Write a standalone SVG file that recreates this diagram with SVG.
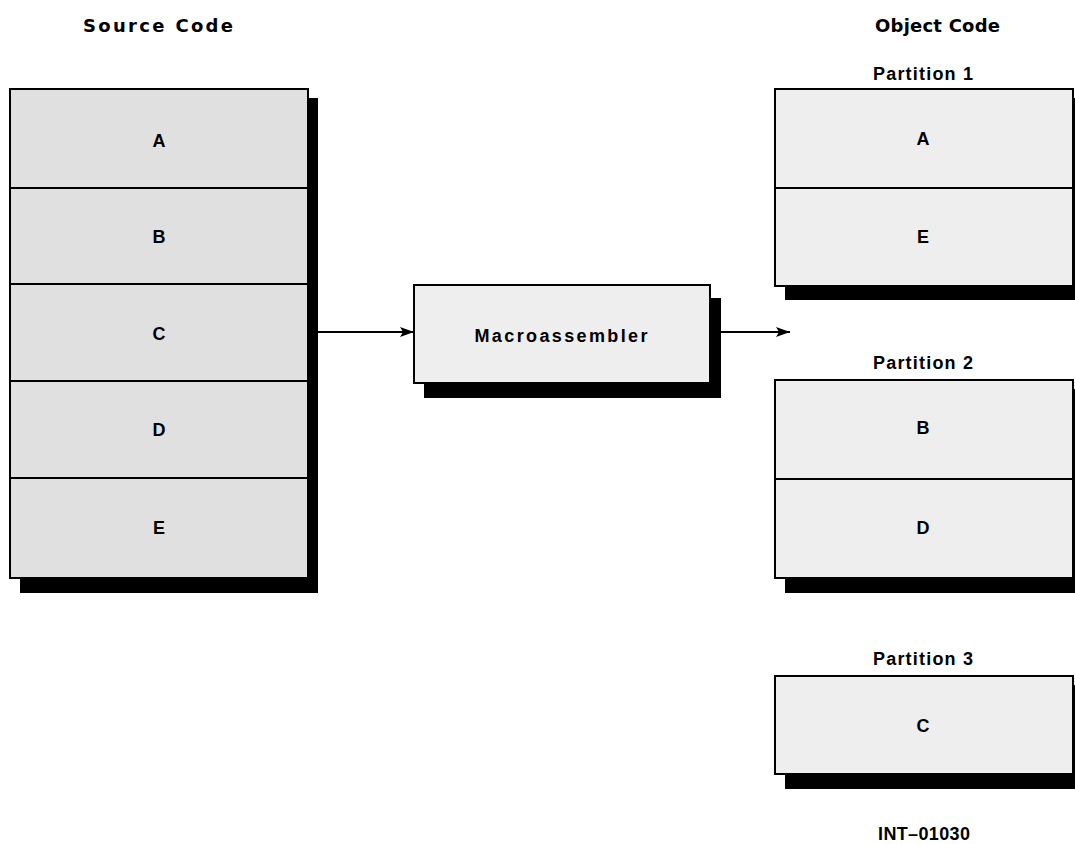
<svg xmlns="http://www.w3.org/2000/svg" width="1075" height="844" viewBox="0 0 1075 844">
<defs>
<style>
.box{stroke:#000;stroke-width:2;}
.src{fill:#e0e0e0;}
.obj{fill:#eeeeee;}
.sh{fill:#000;}
.title{font-family:"DejaVu Sans",sans-serif;font-weight:bold;font-size:18px;fill:#000;}
.lbl{font-family:"Liberation Sans",Arial,sans-serif;font-weight:bold;font-size:18px;fill:#000;text-anchor:middle;}
.ptl{font-family:"Liberation Sans",Arial,sans-serif;font-weight:bold;font-size:18px;fill:#000;text-anchor:middle;}
.conn{stroke:#000;stroke-width:2;fill:none;}
</style>
<marker id="arr" markerWidth="14" markerHeight="10" refX="14" refY="5" orient="auto" markerUnits="userSpaceOnUse">
<path d="M0,0 L14,5 L0,10 L3,5 Z" fill="#000"/>
</marker>
</defs>
<rect width="1075" height="844" fill="#fff"/>
<text class="title" x="83" y="32" textLength="150">Source Code</text>
<text class="title" x="875" y="32" textLength="125">Object Code</text>

<g id="source">
<rect class="sh" x="20" y="98" width="298" height="495"/>
<rect class="box src" x="10" y="89" width="298" height="489"/>
<line class="box" x1="10" y1="188" x2="308" y2="188"/>
<line class="box" x1="10" y1="284" x2="308" y2="284"/>
<line class="box" x1="10" y1="381" x2="308" y2="381"/>
<line class="box" x1="10" y1="478" x2="308" y2="478"/>
<text class="lbl" x="159" y="147">A</text>
<text class="lbl" x="159" y="243">B</text>
<text class="lbl" x="159" y="340">C</text>
<text class="lbl" x="159" y="436">D</text>
<text class="lbl" x="159" y="534">E</text>
</g>

<g id="macroassembler">
<rect class="sh" x="424" y="298" width="297" height="100"/>
<rect class="box obj" x="414" y="285" width="296" height="98"/>
<text class="ptl" x="561" y="342" textLength="173">Macroassembler</text>
</g>

<g id="partition1">
<text class="ptl" x="923" y="80" textLength="100">Partition 1</text>
<rect class="sh" x="785" y="98" width="300" height="202"/>
<rect class="box obj" x="775" y="89" width="298" height="197"/>
<line class="box" x1="775" y1="188" x2="1073" y2="188"/>
<text class="lbl" x="923" y="145">A</text>
<text class="lbl" x="923" y="243">E</text>
</g>

<g id="partition2">
<text class="ptl" x="923" y="369" textLength="100">Partition 2</text>
<rect class="sh" x="785" y="389" width="300" height="204"/>
<rect class="box obj" x="775" y="380" width="298" height="198"/>
<line class="box" x1="775" y1="479" x2="1073" y2="479"/>
<text class="lbl" x="923" y="434">B</text>
<text class="lbl" x="923" y="534">D</text>
</g>

<g id="partition3">
<text class="ptl" x="923" y="665" textLength="100">Partition 3</text>
<rect class="sh" x="785" y="685" width="300" height="104"/>
<rect class="box obj" x="775" y="676" width="298" height="98"/>
<text class="lbl" x="923" y="732">C</text>
</g>

<g id="connectors">
<line class="conn" x1="318" y1="332" x2="414" y2="332" marker-end="url(#arr)"/>
<line class="conn" x1="721" y1="332" x2="790" y2="332" marker-end="url(#arr)"/>
</g>

<text class="ptl" x="924" y="840" font-size="15" textLength="92">INT–01030</text>
</svg>
